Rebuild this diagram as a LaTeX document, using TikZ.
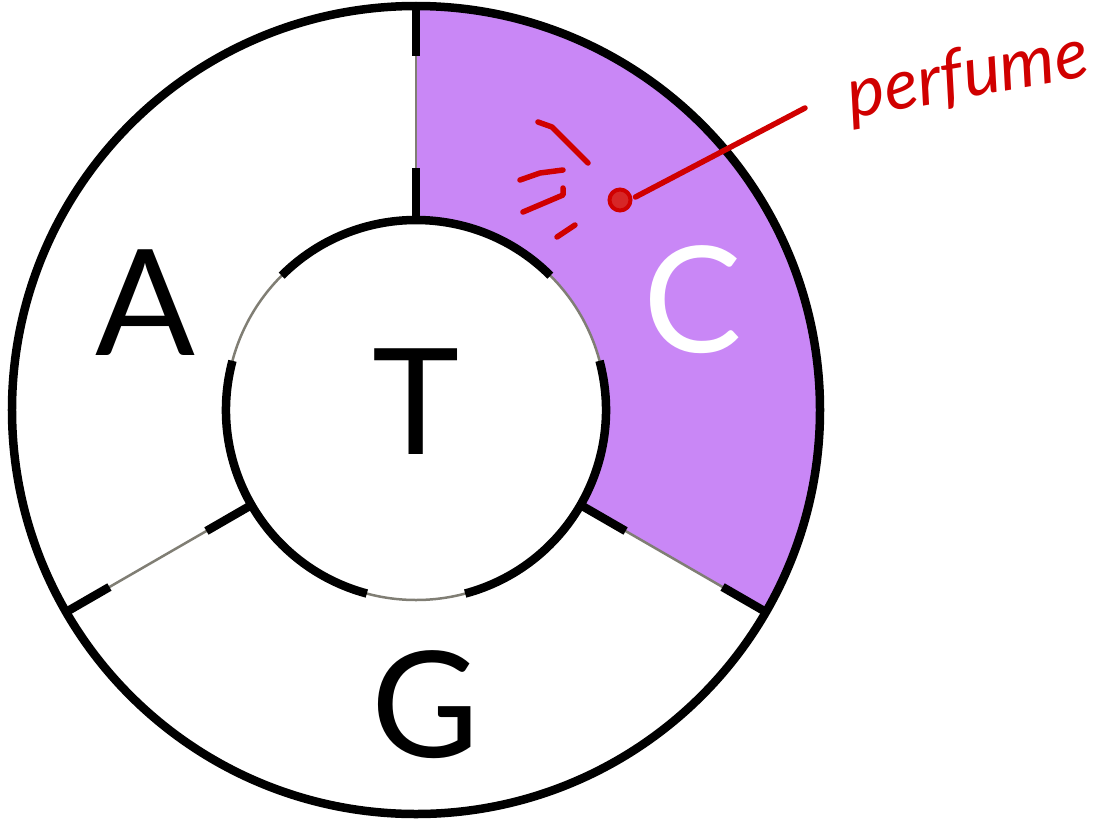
\documentclass[tikz,border=0pt]{standalone}
\usepackage{fontspec}
\setmainfont{Lato}
\definecolor{sector}{RGB}{201,135,246}
\definecolor{seam}{RGB}{128,126,116}
\definecolor{ink}{RGB}{208,0,0}
\begin{document}
\begin{tikzpicture}[x=1cm,y=1cm]
    \tikzset{
        rim/.style={draw=black,line width=0.17cm},
        thin/.style={draw=seam,line width=0.05cm},
        tick/.style={draw=black,line width=0.17cm},
        letter/.style={font=\fontsize{84}{90}\selectfont,inner sep=0pt},
        scribble/.style={draw=ink,line width=0.11cm,line cap=round,line join=round}
    }
    \useasboundingbox (-8.32,-8.16) rectangle (14.06,8.20);

    % shaded sector
    \fill[sector] (90:8.08) arc (90:-30:8.08) -- (-30:3.80)
        arc (-30:90:3.80) -- cycle;

    % thin seams
    \draw[thin] (0,0) circle (3.80);
    \draw[thin] (90:3.80) -- (90:8.08);
    \draw[thin] (210:3.80) -- (210:8.08);
    \draw[thin] (330:3.80) -- (330:8.08);

    % heavy parts
    \draw[rim] (0,0) circle (8.08);
    \draw[tick] (45:3.80) arc (45:135:3.80);
    \draw[tick] (165:3.80) arc (165:255:3.80);
    \draw[tick] (285:3.80) arc (285:375:3.80);
    \draw[tick] (90:3.80) -- (90:4.84);
    \draw[tick] (90:7.08) -- (90:8.08);
    \draw[tick] (210:3.80) -- (210:4.84);
    \draw[tick] (210:7.08) -- (210:8.08);
    \draw[tick] (330:3.80) -- (330:4.84);
    \draw[tick] (330:7.08) -- (330:8.08);

    % letters
    \node[letter] (base-a) at (-5.42,2.14) {A};
    \node[letter] (base-t) at (0.00,0.16) {T};
    \node[letter] (base-g) at (0.18,-5.90) {G};
    \node[letter,text=white] (base-c) at (5.54,2.20) {C};

    % annotation
    \node[circle,draw=ink,fill=ink!85,line width=0.08cm,minimum size=0.42cm,
        inner sep=0pt] (scent) at (4.08,4.20) {};
    \coordinate (scent-end) at (7.78,6.04);
    \node[text=ink,font=\itshape\fontsize{40}{44}\selectfont,rotate=10]
        (scent-label) at (11.04,6.64) {perfume};
    \draw[scribble] (scent.east) ++(0.06,0.06) -- (scent-end);
    \draw[scribble] (2.44,5.76) -- (2.72,5.66) -- (3.44,4.94);
    \draw[scribble] (2.08,4.60) -- (2.48,4.74) -- (2.94,4.80);
    \draw[scribble] (2.14,3.96) -- (2.94,4.30) -- (2.94,4.44);
    \draw[scribble] (2.82,3.46) -- (3.18,3.70);
\end{tikzpicture}
\end{document}
